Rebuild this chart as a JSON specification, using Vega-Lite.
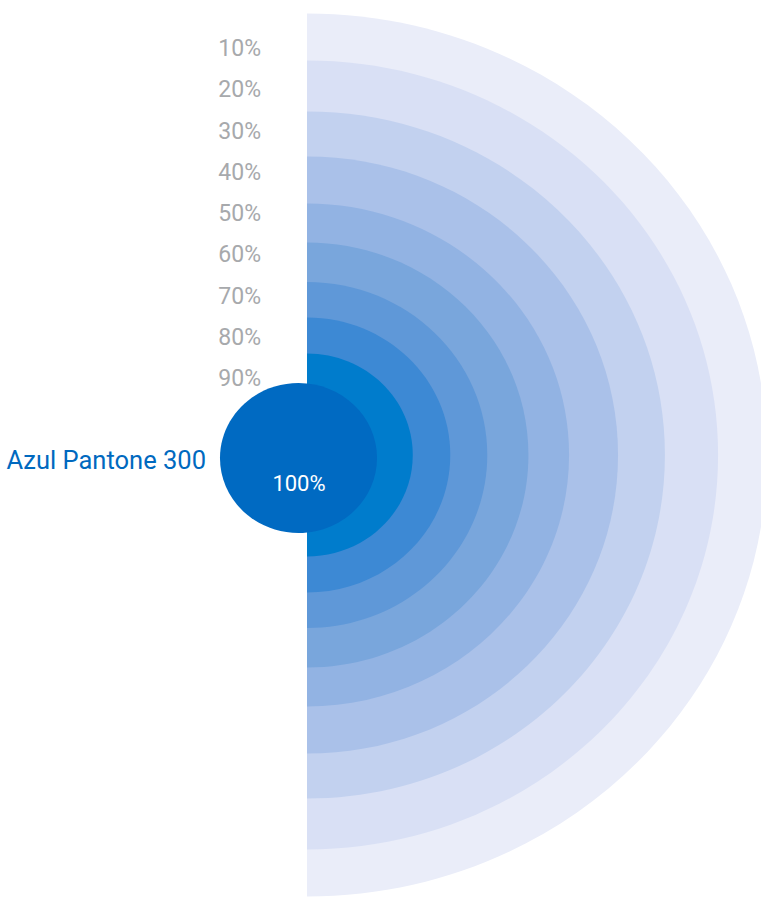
{
  "$schema": "https://vega.github.io/schema/vega-lite/v6.json",
  "width": 761,
  "height": 897,
  "autosize": "none",
  "padding": 0,
  "background": "white",
  "config": {"view": {"stroke": null}},
  "data": {"values": [
    {"tint": 10, "label": "10%"},
    {"tint": 20, "label": "20%"},
    {"tint": 30, "label": "30%"},
    {"tint": 40, "label": "40%"},
    {"tint": 50, "label": "50%"},
    {"tint": 60, "label": "60%"},
    {"tint": 70, "label": "70%"},
    {"tint": 80, "label": "80%"},
    {"tint": 90, "label": "90%"},
    {"tint": 100, "label": "100%", "name": "Azul Pantone 300"}
  ]},
  "resolve": {"scale": {"y": "independent"}},
  "layer": [
    {
      "transform": [{"filter": "datum.tint < 100"}],
      "mark": {"type": "point", "shape": "M0,-1A1.042,1 0 0,1 0,1Z", "filled": true, "opacity": 1, "strokeWidth": 0},
      "encoding": {
        "x": {"datum": 0, "type": "quantitative", "scale": {"domain": [-307, 454], "nice": false, "zero": false}, "axis": null},
        "y": {"datum": 0, "type": "quantitative", "scale": {"domain": [-442, 455], "nice": false, "zero": false}, "axis": null},
        "size": {"field": "tint", "type": "quantitative", "scale": {"type": "linear", "zero": false, "domain": [10, 20, 30, 40, 50, 60, 70, 80, 90, 100], "range": [779689, 622521, 471969, 356409, 253009, 180625, 119716, 75625, 41209, 22500]}, "legend": null},
        "color": {"field": "tint", "type": "ordinal", "scale": {"domain": [10, 20, 30, 40, 50, 60, 70, 80, 90, 100], "range": ["#EAEDF9", "#D9E0F5", "#C2D1EF", "#AAC1E9", "#92B3E3", "#79A6DC", "#5F98D8", "#3D89D4", "#007CCC", "#006AC2"]}, "legend": null}
      }
    },
    {
      "transform": [{"filter": "datum.tint == 100"}],
      "mark": {"type": "point", "shape": "M-1.047,0A1.047,1 0 1,1 1.047,0A1.047,1 0 1,1 -1.047,0Z", "filled": true, "opacity": 1, "strokeWidth": 0},
      "encoding": {
        "x": {"datum": -8.5, "type": "quantitative", "axis": null},
        "y": {"datum": -3, "type": "quantitative", "scale": {"domain": [-442, 455], "nice": false, "zero": false}, "axis": null},
        "size": {"field": "tint", "type": "quantitative", "legend": null},
        "color": {"field": "tint", "type": "ordinal", "legend": null}
      }
    },
    {
      "transform": [{"filter": "datum.tint < 100"}],
      "mark": {"type": "text", "align": "right", "baseline": "middle", "font": "Roboto", "fontSize": 23, "color": "#A7A9AC"},
      "encoding": {
        "x": {"datum": -46, "type": "quantitative", "axis": null},
        "y": {"field": "tint", "type": "quantitative", "scale": {"domain": [-1.879, 215.576], "reverse": true, "nice": false, "zero": false}, "axis": null},
        "text": {"field": "label"}
      }
    },
    {
      "transform": [{"filter": "datum.tint == 100"}],
      "mark": {"type": "text", "align": "center", "baseline": "middle", "font": "Roboto", "fontSize": 22, "color": "white"},
      "encoding": {
        "x": {"datum": -8, "type": "quantitative", "axis": null},
        "y": {"datum": -29, "type": "quantitative", "scale": {"domain": [-442, 455], "nice": false, "zero": false}, "axis": null},
        "text": {"field": "label"}
      }
    },
    {
      "transform": [{"filter": "datum.tint == 100"}],
      "mark": {"type": "text", "align": "right", "baseline": "middle", "font": "Roboto", "fontSize": 25.5, "color": "#0069BF"},
      "encoding": {
        "x": {"datum": -101, "type": "quantitative", "axis": null},
        "y": {"datum": -6, "type": "quantitative", "scale": {"domain": [-442, 455], "nice": false, "zero": false}, "axis": null},
        "text": {"field": "name"}
      }
    }
  ]
}
